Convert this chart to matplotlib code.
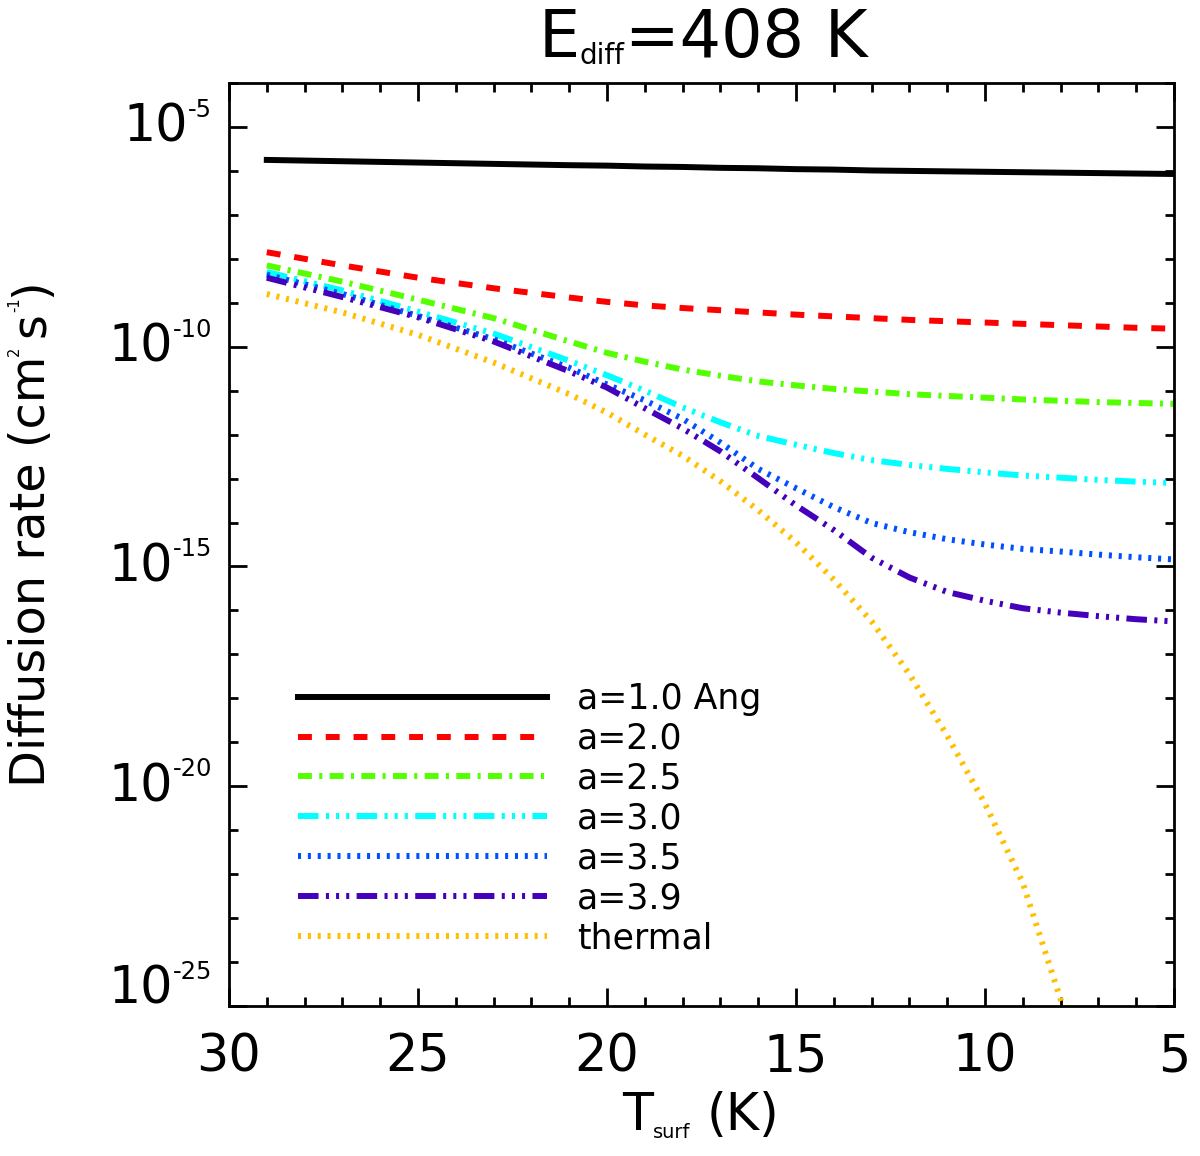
import numpy as np
import matplotlib
matplotlib.use('Agg')
import matplotlib.pyplot as plt
from matplotlib.ticker import FixedLocator, NullFormatter

plt.rcParams['font.family'] = ['DejaVu Sans']
plt.rcParams['lines.scale_dashes'] = False

# surface temperature grid (K)
t_grid = [29, 27, 25, 23, 21, 20, 19, 18, 17, 16, 15, 14, 13, 12, 11, 10, 9, 8, 7, 6, 5]
# log10 of the diffusion rate (cm^2 s^-1)
log_a10 = [-5.75, -5.78, -5.81, -5.84, -5.87, -5.88, -5.90, -5.91, -5.93, -5.94, -5.96,
           -5.97, -5.99, -6.00, -6.01, -6.02, -6.03, -6.04, -6.05, -6.06, -6.07]
log_a20 = [-7.85, -8.15, -8.43, -8.67, -8.88, -8.98, -9.06, -9.12, -9.17, -9.22, -9.27,
           -9.31, -9.35, -9.39, -9.42, -9.45, -9.48, -9.51, -9.54, -9.57, -9.59]
log_a25 = [-8.15, -8.52, -8.93, -9.35, -9.88, -10.14, -10.34, -10.52, -10.66, -10.79, -10.88,
           -10.96, -11.02, -11.08, -11.12, -11.16, -11.20, -11.23, -11.26, -11.28, -11.30]
log_a30 = [-8.30, -8.72, -9.20, -9.70, -10.32, -10.65, -11.00, -11.38, -11.72, -12.03, -12.23,
           -12.42, -12.58, -12.69, -12.78, -12.86, -12.93, -12.98, -13.03, -13.07, -13.10]
log_a35 = [-8.36, -8.80, -9.30, -9.83, -10.48, -10.86, -11.22, -11.64, -12.18, -12.78, -13.22,
           -13.65, -14.01, -14.22, -14.38, -14.50, -14.60, -14.66, -14.73, -14.79, -14.84]
log_a39 = [-8.43, -8.87, -9.33, -9.88, -10.56, -10.93, -11.40, -11.86, -12.38, -12.99, -13.61,
           -14.17, -14.80, -15.25, -15.58, -15.78, -15.95, -16.05, -16.13, -16.20, -16.25]
t_thermal = [29, 27, 25, 23, 21, 20, 19, 18, 17, 16, 15, 14, 13, 12, 11, 10, 9, 8, 7]
log_thermal = [-8.80, -9.22, -9.73, -10.36, -11.08, -11.50, -12.00, -12.48, -13.06, -13.72,
               -14.45, -15.30, -16.25, -17.45, -18.85, -20.40, -22.20, -24.85, -28.00]

labels = ['a=1.0 Ang', 'a=2.0', 'a=2.5', 'a=3.0', 'a=3.5', 'a=3.9', 'thermal']
colors = ['black', '#ff0000', '#55ff00', '#00ffff', '#0050ff', '#4400bb', '#ffc000']

x_ticks = [30, 25, 20, 15, 10, 5]
y_exps = [-5, -10, -15, -20, -25]

W, H = 1200, 1156
fig = plt.figure(figsize=(W / 100, H / 100), dpi=100)
ax = fig.add_axes([229 / W, 1 - 1006 / H, 945 / W, 923 / H])

dash = (0, (10, 10))
dashdot = (0, (10, 5.3, 2.2, 5.3))
dash3dot = (0, (14.8, 5.3, 2.2, 5.1, 2.2, 5.1, 2.2, 5.3))
dots = (0, (2.2, 4.9))
styles = ['-', dash, dashdot, dash3dot, dots, dash3dot, dots]

series = [log_a10, log_a20, log_a25, log_a30, log_a35, log_a39]
for vals, lab, c, ls in zip(series, labels, colors, styles):
    ax.plot(t_grid, 10.0 ** np.array(vals), color=c, ls=ls, lw=4.3, label=lab)
ax.plot(t_thermal, 10.0 ** np.array(log_thermal), color=colors[-1], ls=styles[-1],
        lw=4.3, label=labels[-1])

ax.set_yscale('log')
ax.set_xlim(30, 5)
ax.set_ylim(1e-25, 1e-4)

ax.xaxis.set_major_locator(FixedLocator(x_ticks))
ax.xaxis.set_minor_locator(FixedLocator(range(5, 31)))
ax.yaxis.set_major_locator(FixedLocator([10.0 ** e for e in y_exps]))
ax.yaxis.set_minor_locator(FixedLocator([10.0 ** e for e in range(-25, -3) if e % 5]))
ax.yaxis.set_major_formatter(NullFormatter())
ax.yaxis.set_minor_formatter(NullFormatter())
ax.set_xticklabels([str(v) for v in x_ticks])

ax.tick_params(which='both', direction='in', top=True, right=True, width=2)
ax.tick_params(which='major', length=13)
ax.tick_params(which='minor', length=6.5)
ax.tick_params(axis='x', labelsize=36.5, pad=19)
for s in ax.spines.values():
    s.set_linewidth(2)

ax.legend(loc='upper left', bbox_to_anchor=(0.073, 0.3513), frameon=False,
          fontsize=25, handlelength=7.18, handletextpad=0.86, labelspacing=0.17,
          borderpad=0, borderaxespad=0)

renderer = fig.canvas.get_renderer()


def text_width(s, size):
    t1 = fig.text(0, 0, '|' + s + '|', fontsize=size)
    t2 = fig.text(0, 0, '||', fontsize=size)
    w = t1.get_window_extent(renderer).width - t2.get_window_extent(renderer).width
    t1.remove()
    t2.remove()
    return w


def rich_text(parts, along, across, ha='center', rot=0):
    # parts: (text, fontsize, baseline shift in px); coordinates in pixels from bottom-left
    widths = [text_width(s, sz) for s, sz, _ in parts]
    total = sum(widths)
    pos = along - total / 2 if ha == 'center' else (along - total if ha == 'right' else along)
    for (s, sz, rise), w in zip(parts, widths):
        if s.strip():
            if rot == 0:
                fig.text(pos / W, (across + rise) / H, s, fontsize=sz, ha='left', va='baseline')
            else:
                fig.text((across - rise) / W, pos / H, s, fontsize=sz, rotation=90,
                         rotation_mode='anchor', ha='left', va='baseline')
        pos += w


# y tick labels as 10^n
for e in y_exps:
    ty = ax.transData.transform((30, 10.0 ** e))[1]
    base = ty - 15
    if e == -25:
        base += 17
    rich_text([('10', 36.5, 0), ('-%d' % -e, 17.5, 25)], 212, base, ha='right')

rich_text([('E', 47, 0), ('diff', 20, -7), ('=408 K', 47, 0)], 703, H - 57)
rich_text([('T', 36.5, 0), ('surf', 14, -8), (' ', 36.5, 0), ('(K)', 36.5, 0)], 701, H - 1130)
rich_text([('Diffusion rate (cm', 34.5, 0), ('2', 10.5, 26), (' ', 22, 0), ('s', 34.5, 0),
           ('-1', 10.5, 26), (')', 34.5, 0)], H - 533, 45, rot=90)

fig.savefig('out.png', dpi=100)
